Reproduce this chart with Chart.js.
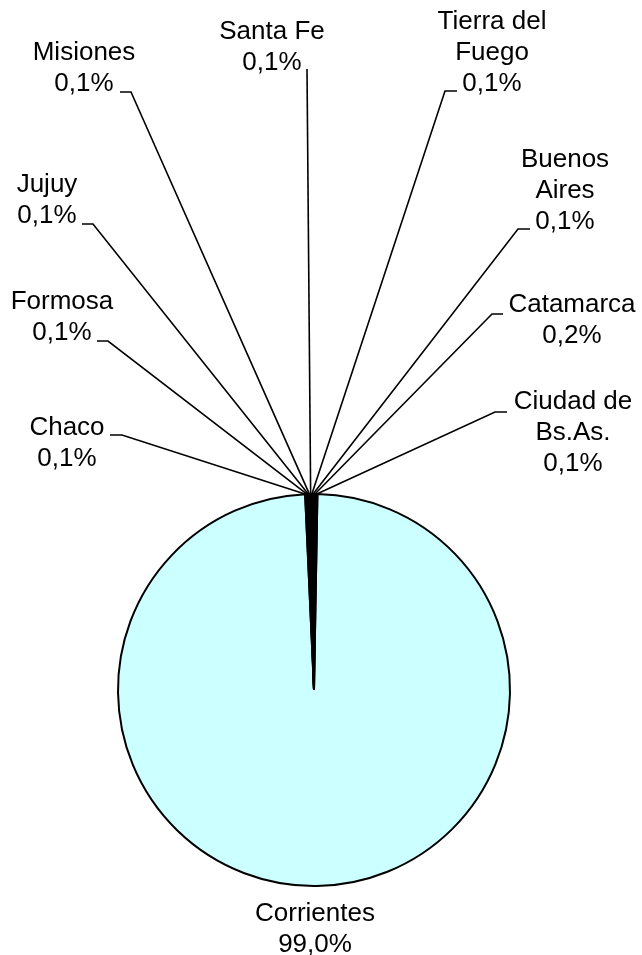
<!DOCTYPE html>
<html>
<head>
<meta charset="utf-8">
<title>Distribución por provincia</title>
<script src="https://cdn.jsdelivr.net/npm/chart.js@4/dist/chart.umd.min.js"></script>
<style>
  html, body { margin: 0; padding: 0; background: #fff; }
  #wrap { position: relative; width: 642px; height: 955px; }
</style>
</head>
<body>
<div id="wrap"><canvas id="torta"></canvas></div>
<script>
/* ── Datos ─────────────────────────────────────────────── */
var provincias = ["Corrientes", "Chaco", "Formosa", "Jujuy", "Misiones", "Santa Fe",
  "Tierra del Fuego", "Buenos Aires", "Catamarca", "Ciudad de Bs.As."];
var porcentajes = [99.0, 0.1, 0.1, 0.1, 0.1, 0.1, 0.1, 0.1, 0.2, 0.1];
// renglones del rótulo tal como aparecen cortados en el gráfico
var renglones = [["Corrientes"], ["Chaco"], ["Formosa"], ["Jujuy"], ["Misiones"], ["Santa Fe"],
  ["Tierra del", "Fuego"], ["Buenos", "Aires"], ["Catamarca"], ["Ciudad de", "Bs.As."]];
var colores = ["#ccffff", "#000", "#000", "#000", "#000", "#000", "#000", "#000", "#000", "#000"];

/* ── Ubicación de rótulos (texto + codo de la línea guía) ── */
var rotulos = [
  { tx: 315, ty: 914 },
  { tx: 67,  ty: 428, ex: 122, ey: 435, sx: 110 },
  { tx: 62,  ty: 302, ex: 108, ey: 341, sx: 97 },
  { tx: 47,  ty: 185, ex: 93,  ey: 224, sx: 82 },
  { tx: 84,  ty: 53,  ex: 131, ey: 92,  sx: 120 },
  { tx: 272, ty: 32,  ex: 307, ey: 69,  sx: 307 },
  { tx: 492, ty: 22,  ex: 445, ey: 91,  sx: 457 },
  { tx: 565, ty: 160, ex: 518, ey: 229, sx: 530 },
  { tx: 572, ty: 305, ex: 492, ey: 314, sx: 503 },
  { tx: 573, ty: 402, ex: 495, ey: 412, sx: 507 }
];

function fmtPct(v) { return v.toFixed(1).replace(".", ",") + "%"; }

/* ── Plugin: rótulos con líneas guía ───────────────────── */
var rotulosPlugin = {
  id: "rotulos",
  afterDraw: function (chart) {
    var ctx = chart.ctx;
    var arcs = chart.getDatasetMeta(0).data;
    ctx.save();
    ctx.strokeStyle = "#000";
    ctx.lineWidth = 1.6;
    ctx.fillStyle = "#000";
    ctx.font = "26px 'Liberation Sans', Arial, sans-serif";
    ctx.textAlign = "center";
    ctx.textBaseline = "middle";
    arcs.forEach(function (arc, i) {
      var r = rotulos[i];
      if (r.ex !== undefined) {
        var p = arc.getProps(["x", "y", "startAngle", "endAngle", "outerRadius"], true);
        var mid = (p.startAngle + p.endAngle) / 2;
        var px = p.x + Math.cos(mid) * p.outerRadius;
        var py = p.y + Math.sin(mid) * p.outerRadius;
        ctx.beginPath();
        ctx.moveTo(r.sx, r.ey);
        ctx.lineTo(r.ex, r.ey);
        ctx.lineTo(px, py);
        ctx.stroke();
      }
      var lineas = renglones[i].concat([fmtPct(porcentajes[i])]);
      lineas.forEach(function (t, k) {
        ctx.fillText(t, r.tx, r.ty + k * 31);
      });
    });
    ctx.restore();
  }
};

/* ── Gráfico ───────────────────────────────────────────── */
new Chart(document.getElementById("torta"), {
  type: "pie",
  data: {
    labels: provincias,
    datasets: [{
      data: porcentajes,
      backgroundColor: colores,
      borderColor: "#000",
      borderWidth: 2
    }]
  },
  options: {
    responsive: true,
    maintainAspectRatio: false,
    animation: false,
    rotation: 1,
    radius: 196,
    layout: { padding: { left: 0, right: 14, top: 490, bottom: 65 } },
    plugins: {
      legend: { display: false },
      tooltip: { enabled: false }
    }
  },
  plugins: [rotulosPlugin]
});
</script>
</body>
</html>
